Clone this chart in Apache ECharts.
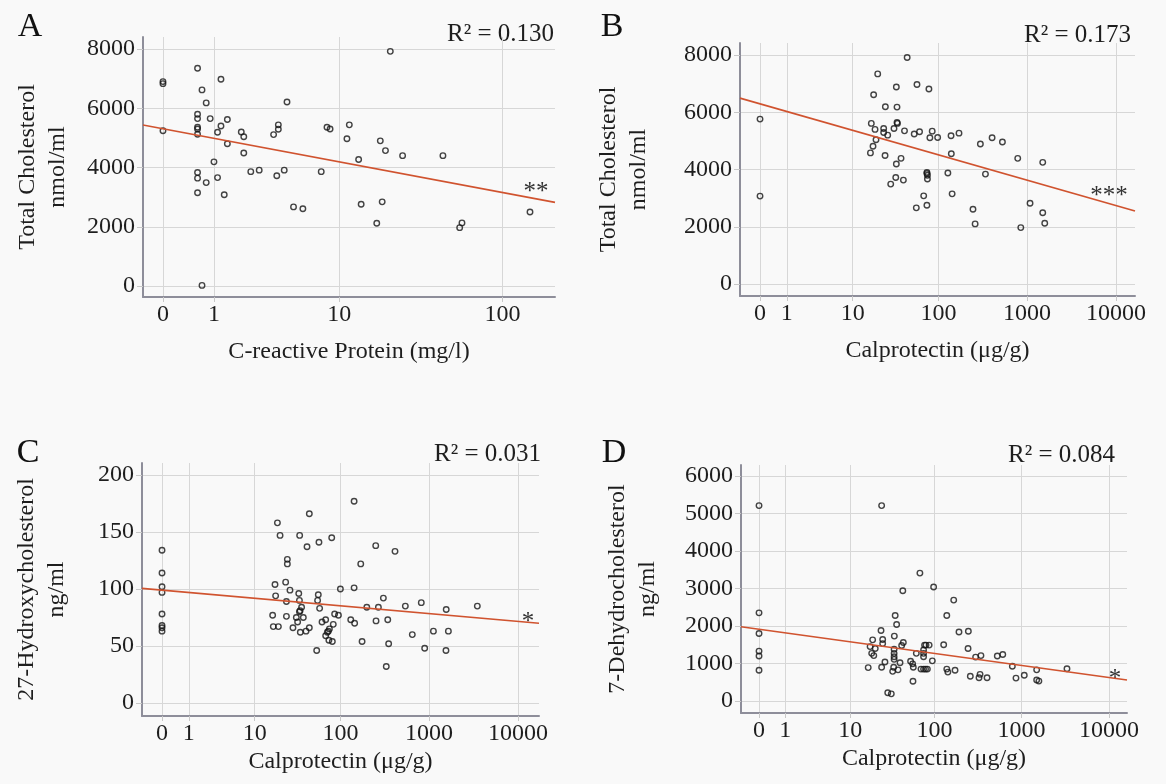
<!DOCTYPE html>
<html>
<head>
<meta charset="utf-8">
<title>Sterols vs inflammation markers</title>
<script src="https://cdn.jsdelivr.net/npm/echarts@6/dist/echarts.min.js"></script>
<style>
  html, body { margin: 0; padding: 0; background: #f9f9f9; }
  #chart { width: 1166px; height: 784px; }
</style>
</head>
<body>
<div id="chart"></div>
<script>
// x values are in original units (mg/l, µg/g); the axis is log10(x + 1)
const xTicksCrp = [0, 1, 10, 100];
const xTicksCal = [0, 1, 10, 100, 1000, 10000];
const yTicksChol = [0, 2000, 4000, 6000, 8000];
const yTicksHydroxy = [0, 50, 100, 150, 200];
const yTicksDehydro = [0, 1000, 2000, 3000, 4000, 5000, 6000];

// A: C-reactive protein vs total cholesterol
const crpChol = [
  [0, 6900], [0, 6830], [0, 5240], [0.6, 7350], [1.2, 6980], [0.7, 6620], [0.8, 6180],
  [0.6, 5800], [0.6, 5650], [0.9, 5650], [1.4, 5620], [0.6, 5360], [0.6, 5300], [1.2, 5400],
  [0.6, 5120], [1.1, 5190], [1.4, 4800], [1.0, 4190], [0.6, 3830], [0.6, 3640], [0.8, 3490],
  [1.1, 3660], [0.6, 3150], [1.3, 3080], [0.7, 20], [4.4, 6210], [1.9, 5200], [2.0, 5040],
  [2.0, 4490], [2.3, 3860], [2.7, 3910], [3.8, 5440], [3.8, 5290], [3.5, 5110], [3.7, 3720],
  [4.2, 3910], [4.9, 2670], [5.7, 2610], [7.6, 3860], [8.3, 5360], [8.7, 5300], [11.6, 5440],
  [11.2, 4970], [21, 7920], [13.3, 4270], [18.2, 4900], [19.6, 4570], [25, 4400], [44, 4400],
  [13.8, 2760], [18.7, 2840], [17.3, 2120], [55.5, 1970], [57.3, 2130], [146, 2500]
];

// B: calprotectin vs total cholesterol
const calChol = [
  [0, 5760], [0, 3070], [20, 7340], [17.9, 6610], [24.6, 6190], [33, 6880], [33.6, 6180],
  [16.8, 5610], [18.6, 5400], [23.5, 5430], [23.5, 5290], [26.2, 5200], [19.1, 5040],
  [17.6, 4810], [16.4, 4580], [24.4, 4490], [31, 5430], [33, 4190], [32.5, 3720], [28.4, 3490],
  [44, 7910], [57, 6970], [78, 6810], [33.6, 5640], [34, 5610], [41, 5350], [53, 5240],
  [61, 5320], [85, 5340], [80, 5110], [98, 5120], [139, 5180], [171, 5270], [140, 4550],
  [37.4, 4390], [39.8, 3630], [74, 3900], [74, 3860], [75, 3800], [75, 3670], [68, 3080],
  [56, 2660], [74, 2750], [128, 3880], [143, 3150], [246, 2610], [260, 2100], [298, 4890],
  [340, 3840], [404, 5110], [528, 4960], [785, 4390], [1500, 4250], [1080, 2820],
  [1500, 2490], [1580, 2120], [850, 1970]
];

// C: calprotectin vs 27-hydroxycholesterol
const calHydroxy = [
  [0, 134], [0, 114], [0, 102], [0, 97], [0, 78], [0, 68], [0, 66], [0, 63],
  [18.8, 158], [20.2, 147], [34.2, 147], [44.2, 166], [41.6, 137], [57, 141], [24.6, 126],
  [24.6, 122], [17.6, 104], [17.9, 94], [23.5, 106], [26.4, 99], [24, 89], [33.4, 96],
  [34, 90], [36, 84], [34.6, 81], [34, 80], [56, 95], [55, 90], [58, 83], [16.5, 77],
  [24, 76], [31.3, 75], [37.7, 75], [32.4, 71], [16.8, 67], [19.3, 67], [28.6, 66],
  [34.8, 62], [40.5, 63], [44.2, 66], [53.7, 46], [61.8, 71], [68, 73], [68, 59], [74, 55],
  [79.7, 145], [143, 177], [251, 138], [414, 133], [170, 122], [100, 100], [143, 101],
  [306, 92], [199, 84], [269, 84], [541, 85], [818, 88], [1560, 82], [3490, 85], [86, 78],
  [95, 77], [131, 73], [145, 70], [253, 72], [343, 73], [83, 69], [75, 65], [73, 63],
  [71, 62], [81, 54], [176, 54], [351, 52], [648, 60], [1120, 63], [1650, 63], [893, 48],
  [1550, 46], [330, 32]
];

// D: calprotectin vs 7-dehydrocholesterol
const calDehydro = [
  [0, 5210], [0, 2350], [0, 1800], [0, 1330], [0, 1200], [0, 820],
  [24.2, 5210], [68, 3410], [98, 3040], [43, 2940], [167, 2690], [35, 2280], [139, 2280],
  [36.4, 2040], [23.8, 1880], [34.2, 1730], [192, 1840], [246, 1860], [18.9, 1630],
  [24.9, 1640], [24.9, 1530], [43.6, 1560], [41.7, 1480], [17.6, 1450], [20.3, 1400],
  [18.4, 1270], [19.5, 1210], [34, 1380], [34, 1270], [34, 1180], [34, 1110], [39.9, 1020],
  [33.6, 900], [32.7, 790], [37.8, 830], [26.5, 1040], [24.2, 900], [16.7, 890], [53, 1060],
  [56, 990], [57, 900], [61.8, 1270], [77, 1490], [80, 1490], [87, 1490], [75, 1360],
  [75, 1270], [75, 1180], [70, 850], [75, 850], [79, 850], [83, 850], [94.7, 1070],
  [56.5, 525], [28.6, 220], [31.5, 190], [128, 1500], [139, 850], [143, 770], [173, 820],
  [244, 1400], [259, 660], [298, 1170], [343, 1210], [326, 620], [335, 710], [403, 620],
  [528, 1200], [610, 1240], [785, 925], [864, 610], [1075, 685], [1490, 830], [1490, 560],
  [1580, 530], [3310, 860]
];

// fitted lines: [intercept, slope] against log10(x + 1)
const fitA = [5307, -1073];
const fitB = [6293, -889];
const fitC = [99.0, -6.87];
const fitD = [1915, -322];

const r2Labels = ['R² = 0.130', 'R² = 0.173', 'R² = 0.031', 'R² = 0.084'];
const sigLabels = ['**', '***', '*', '*'];
const panelLetters = ['A', 'B', 'C', 'D'];

const tf = v => Math.log10(v + 1);
const FONT = 'Liberation Serif, Times New Roman, serif';

const panels = [
  { pts: crpChol, fit: fitA, xTicks: xTicksCrp, yTicks: yTicksChol,
    xName: 'C-reactive Protein (mg/l)', yName: 'Total Cholesterol\nnmol/ml',
    grid: { left: 143, top: 37, width: 412, height: 260 },
    xMin: -0.118, xMax: 2.315, yMin: -371, yMax: 8405, xGap: 43, yGap: 70,
    letter: [30, 27], r2: [554, 34], sig: [536, 180] },
  { pts: calChol, fit: fitB, xTicks: xTicksCal, yTicks: yTicksChol,
    xName: 'Calprotectin (μg/g)', yName: 'Total Cholesterol\nnmol/ml',
    grid: { left: 740, top: 43, width: 395, height: 253 },
    xMin: -0.225, xMax: 4.213, yMin: -419, yMax: 8419, xGap: 43, yGap: 86,
    letter: [612, 27], r2: [1131, 35], sig: [1109, 184] },
  { pts: calHydroxy, fit: fitC, xTicks: xTicksCal, yTicks: yTicksHydroxy,
    xName: 'Calprotectin (μg/g)', yName: '27-Hydroxycholesterol\nng/ml',
    grid: { left: 142, top: 463, width: 397, height: 253 },
    xMin: -0.225, xMax: 4.236, yMin: -11.4, yMax: 210.5, xGap: 34, yGap: 70,
    letter: [28, 453], r2: [541, 454], sig: [528, 610] },
  { pts: calDehydro, fit: fitD, xTicks: xTicksCal, yTicks: yTicksDehydro,
    xName: 'Calprotectin (μg/g)', yName: '7-Dehydrocholesterol\nng/ml',
    grid: { left: 741, top: 465, width: 386, height: 248 },
    xMin: -0.206, xMax: 4.206, yMin: -320, yMax: 6293, xGap: 34, yGap: 78,
    letter: [614, 453], r2: [1115, 455], sig: [1115, 667] }
];

const axisLineStyle = { color: '#8e8e9a', width: 2 };
const gridLineStyle = { color: '#d7d7d7', width: 1 };
const labelStyle = { fontFamily: FONT, fontSize: 24, color: '#1e1e1e' };

const option = {
  backgroundColor: '#f9f9f9',
  animation: false,
  grid: panels.map(p => Object.assign({ outerBoundsMode: 'none' }, p.grid)),
  xAxis: panels.map((p, i) => ({
    type: 'value', gridIndex: i, min: p.xMin, max: p.xMax,
    axisLine: { show: true, onZero: false, lineStyle: axisLineStyle },
    axisTick: { show: true, customValues: p.xTicks.map(tf), length: 5, lineStyle: { color: '#c8c8c8' } },
    axisLabel: Object.assign({
      customValues: p.xTicks.map(tf), margin: 6,
      formatter: v => String(Math.round(Math.pow(10, v) - 1))
    }, labelStyle),
    splitLine: { show: true, lineStyle: gridLineStyle },
    name: p.xName, nameLocation: 'middle', nameGap: p.xGap,
    nameTextStyle: { fontFamily: FONT, fontSize: 24, color: '#1e1e1e' }
  })),
  yAxis: panels.map((p, i) => ({
    type: 'value', gridIndex: i, min: p.yMin, max: p.yMax,
    axisLine: { show: true, onZero: false, lineStyle: axisLineStyle },
    axisTick: { show: true, customValues: p.yTicks, length: 6, lineStyle: { color: '#c8c8c8' } },
    axisLabel: Object.assign({ customValues: p.yTicks, margin: 8, formatter: v => String(v) }, labelStyle),
    splitLine: { show: true, lineStyle: gridLineStyle },
    name: p.yName, nameLocation: 'middle', nameGap: p.yGap,
    nameTextStyle: { fontFamily: FONT, fontSize: 24, lineHeight: 30, color: '#1e1e1e' }
  })),
  series: [],
  graphic: []
};

panels.forEach((p, i) => {
  option.series.push({
    type: 'scatter', xAxisIndex: i, yAxisIndex: i, silent: true,
    symbol: 'circle', symbolSize: 5.5,
    itemStyle: { color: 'rgba(0,0,0,0)', borderColor: '#151515', borderWidth: 1.4 },
    data: p.pts.map(d => [tf(d[0]), d[1]])
  });
  option.series.push({
    type: 'line', xAxisIndex: i, yAxisIndex: i, silent: true,
    showSymbol: false, symbol: 'none',
    lineStyle: { color: '#d0532f', width: 1.6 },
    data: [p.xMin, p.xMax].map(t => [t, p.fit[0] + p.fit[1] * t])
  });
  option.graphic.push(
    { type: 'text', x: p.letter[0], y: p.letter[1],
      style: { text: panelLetters[i], font: '34px ' + FONT, fill: '#111', align: 'center', verticalAlign: 'middle' } },
    { type: 'text', x: p.r2[0], y: p.r2[1],
      style: { text: r2Labels[i], font: '25px ' + FONT, fill: '#1e1e1e', align: 'right', verticalAlign: 'middle' } },
    { type: 'text', x: p.sig[0], y: p.sig[1],
      style: { text: sigLabels[i], font: '25px ' + FONT, fill: '#333', align: 'center', verticalAlign: 'top' } }
  );
});

const chart = echarts.init(document.getElementById('chart'));
chart.setOption(option);
</script>
</body>
</html>
